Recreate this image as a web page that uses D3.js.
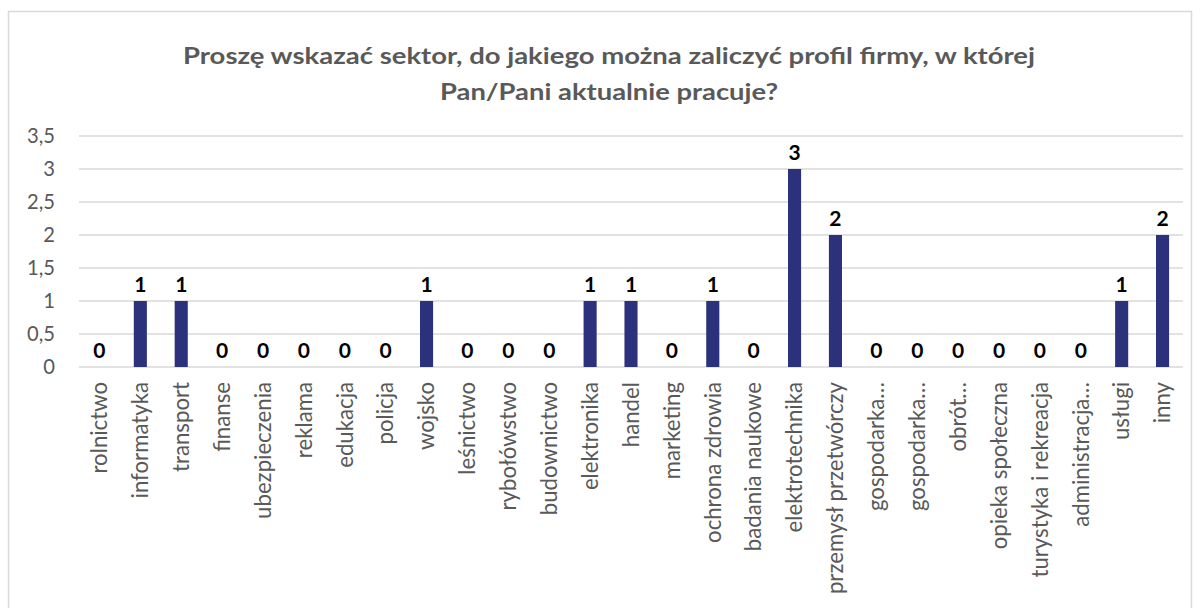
<!DOCTYPE html>
<html>
<head>
<meta charset="utf-8">
<script src="https://cdn.jsdelivr.net/npm/d3@7"></script>
<style>
  body { margin: 0; background: #fff; }
  svg text { font-family: Lato, "Open Sans", sans-serif; }
</style>
</head>
<body>
<div id="chart-container"></div>
<script>
(function(){
    /* global d3 */
    var categories = ['rolnictwo','informatyka','transport','finanse','ubezpieczenia','reklama','edukacja','policja','wojsko','leśnictwo','rybołówstwo','budownictwo','elektronika','handel','marketing','ochrona zdrowia','badania naukowe','elektrotechnika','przemysł przetwórczy','gospodarka…','gospodarka…','obrót…','opieka społeczna','turystyka i rekreacja','administracja…','usługi','inny'];
    var values = [0,1,1,0,0,0,0,0,1,0,0,0,1,1,0,1,0,3,2,0,0,0,0,0,0,1,2];
    var yTicks = [0,0.5,1,1.5,2,2.5,3,3.5];
    var titleLines = ['Proszę wskazać sektor, do jakiego można zaliczyć profil firmy, w której','Pan/Pani aktualnie pracuje?'];

    var W = 1201, H = 608;
    var m = {left: 79, right: 18, top: 136, bottom: 241};

    var svg = d3.select('#chart-container')
        .append('svg')
        .attr('width', W)
        .attr('height', H);

    // pick a font size so that a sample string gets the width seen in the picture
    function fitSize(sample, target, weight){
        var t = svg.append('text')
            .style('font-size', '20px')
            .style('font-weight', weight || 'normal')
            .text(sample);
        var w = t.node().getComputedTextLength();
        t.remove();
        return w > 0 ? 20 * target / w : 20;
    }

    var catSize = fitSize('ubezpieczenia', 137);
    var tickSize = fitSize('3,5', 28);

    // outer chart border
    svg.append('rect')
        .attr('x', 8.5).attr('y', 11.5)
        .attr('width', 1183).attr('height', 610)
        .attr('fill', 'none')
        .attr('stroke', '#d9d9d9')
        .attr('stroke-width', 1.5);

    svg.selectAll('text.title')
        .data(titleLines).enter()
        .append('text')
        .attr('class', 'title')
        .attr('x', 609)
        .attr('y', (d, i) => 64 + i * 36)
        .attr('text-anchor', 'middle')
        .attr('fill', '#595959')
        .style('font-size', '23px')
        .style('font-weight', 'bold')
        .attr('textLength', (d, i) => i === 0 ? 852 : 338)
        .attr('lengthAdjust', 'spacingAndGlyphs')
        .text(d => d);

    var x = d3.scaleBand()
        .domain(d3.range(categories.length))
        .range([m.left, W - m.right])
        .paddingInner(0.68)
        .paddingOuter(0.34);

    var y = d3.scaleLinear()
        .domain([0, 3.5])
        .range([H - m.bottom, m.top]);

    var fmt = v => String(v).replace('.', ',');

    // gridlines
    svg.append('g')
        .selectAll('line')
        .data(yTicks).enter()
        .append('line')
        .attr('x1', m.left).attr('x2', W - m.right)
        .attr('y1', d => y(d)).attr('y2', d => y(d))
        .attr('stroke', '#d9d9d9')
        .attr('stroke-width', 1.5);

    var yAxis = svg.append('g')
        .attr('transform', 'translate(' + (m.left - 24) + ',0)')
        .call(d3.axisLeft(y).tickValues(yTicks).tickFormat(fmt).tickSize(0));
    yAxis.select('.domain').remove();
    yAxis.selectAll('text')
        .attr('fill', '#595959')
        .style('font-size', tickSize + 'px')
        .style('font-family', 'Lato, "Open Sans", sans-serif')
        .attr('x', 0);

    svg.append('g')
        .selectAll('rect')
        .data(values).enter()
        .append('rect')
        .attr('x', (d, i) => x(i))
        .attr('width', x.bandwidth())
        .attr('y', d => y(d))
        .attr('height', d => y(0) - y(d))
        .attr('fill', '#2b317b');

    svg.append('g')
        .selectAll('text')
        .data(values).enter()
        .append('text')
        .attr('x', (d, i) => x(i) + x.bandwidth() / 2)
        .attr('y', d => y(d) - 17)
        .attr('dy', '0.36em')
        .attr('text-anchor', 'middle')
        .style('font-size', '21px')
        .style('font-weight', 'bold')
        .attr('fill', '#000')
        .text(d => fmt(d));

    var xAxis = svg.append('g')
        .attr('transform', 'translate(0,' + y(0) + ')')
        .call(d3.axisBottom(x).tickFormat(i => categories[i]).tickSize(0));
    xAxis.select('.domain').remove();
    xAxis.selectAll('text')
        .attr('fill', '#595959')
        .style('font-size', catSize + 'px')
        .style('font-family', 'Lato, "Open Sans", sans-serif')
        .attr('transform', 'rotate(-90)')
        .attr('text-anchor', 'end')
        .attr('x', -15)
        .attr('y', 0)
        .attr('dy', '0.35em');
})();
</script>
</body>
</html>
